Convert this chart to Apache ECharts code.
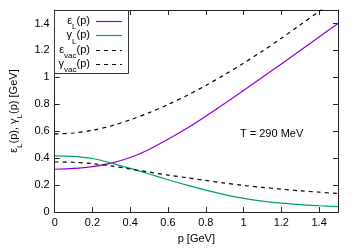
<!DOCTYPE html>
<html>
<head>
<meta charset="utf-8">
<script src="https://cdn.jsdelivr.net/npm/echarts@6/dist/echarts.min.js"></script>
<style>html,body{margin:0;padding:0;background:#fff}#c{width:356px;height:249px}</style>
</head>
<body>
<div id="c"></div>
<script>
const p = [0, 0.1, 0.2, 0.3, 0.4, 0.5, 0.6, 0.7, 0.8, 0.9, 1.0, 1.1, 1.2, 1.3, 1.4, 1.5];
const epsL = [0.318, 0.324, 0.338, 0.364, 0.405, 0.465, 0.54, 0.622, 0.712, 0.806, 0.903, 1.001, 1.10, 1.20, 1.30, 1.40];
const gamL = [0.418, 0.414, 0.398, 0.364, 0.325, 0.283, 0.24, 0.20, 0.163, 0.13, 0.102, 0.082, 0.066, 0.055, 0.047, 0.04];
const epsVac = [0.58, 0.587, 0.607, 0.64, 0.685, 0.738, 0.798, 0.865, 0.94, 1.02, 1.105, 1.195, 1.29, 1.39, 1.49, 1.59];
const gamVac = [0.372, 0.37, 0.36, 0.343, 0.32, 0.297, 0.275, 0.255, 0.235, 0.215, 0.198, 0.184, 0.17, 0.158, 0.148, 0.138];
const xTicks = [0, 0.2, 0.4, 0.6, 0.8, 1, 1.2, 1.4];
const yTicks = [0, 0.2, 0.4, 0.6, 0.8, 1, 1.2, 1.4];
const seriesNames = ['{m|ε}{s|L}{m|(p)}', '{m|γ}{s|L}{m|(p)}', '{m|ε}{s|vac}{m|(p)}', '{m|γ}{s|vac}{m|(p)}'];
const annotation = 'T = 290 MeV';

const font = 'Liberation Sans, Arial, sans-serif';
const colors = ['#9400d3', '#009e73', '#000', '#000'];
const dashes = ['solid', 'solid', [4, 4], [4, 4]];
const pair = (arr) => p.map((x, i) => [x, arr[i]]);
const fmt = v => (Math.abs(v - Math.round(v)) < 1e-9 ? String(Math.round(v)) : v.toFixed(1));
const rich = {
  m: {fontFamily: font, fontSize: 11, color: '#000', lineHeight: 12},
  s: {fontFamily: font, fontSize: 8, color: '#000', lineHeight: 12, verticalAlign: 'bottom', padding: [0, 0, -4, 0]}
};
const axisBase = {
  min: 0, max: 1.5, interval: 0.2,
  axisLine: {show: true, onZero: false, lineStyle: {color: '#222', width: 1}},
  axisTick: {show: true, inside: true, length: 5, lineStyle: {color: '#222'}},
  splitLine: {show: false}
};

// legend box drawn as graphic elements
const legendX = 54, legendY = 10, legendW = 74, legendH = 63, rowY0 = 21, rowStep = 14.3;
const legendEls = [{
  type: 'rect', shape: {x: legendX + 0.5, y: legendY + 0.5, width: legendW, height: legendH},
  style: {fill: '#fff', stroke: '#333', lineWidth: 1}, z: 100
}];
seriesNames.forEach((n, i) => {
  const y = rowY0 + i * rowStep;
  legendEls.push({
    type: 'text', x: 90, y: y, z: 101,
    style: {text: n, rich: rich, align: 'right', verticalAlign: 'middle'}
  });
  legendEls.push({
    type: 'line', shape: {x1: 96, y1: Math.round(y) + 0.5, x2: 122, y2: Math.round(y) + 0.5}, z: 101,
    style: {stroke: colors[i], lineWidth: 1.2, lineDash: dashes[i] === 'solid' ? null : dashes[i]}
  });
});

const chart = echarts.init(document.getElementById('c'), null, {renderer: 'canvas'});
chart.setOption({
  animation: false,
  backgroundColor: '#fff',
  grid: {left: 48, right: 18, top: 10, bottom: 32},
  xAxis: [
    Object.assign({}, axisBase, {
      type: 'value', position: 'bottom',
      name: 'p [GeV]', nameLocation: 'middle', nameGap: 19,
      nameTextStyle: {fontFamily: font, fontSize: 11, color: '#000'},
      axisLabel: {fontFamily: font, fontSize: 11, color: '#000', margin: 5,
        formatter: v => xTicks.some(t => Math.abs(t - v) < 1e-9) ? fmt(v) : ''}
    }),
    Object.assign({}, axisBase, {type: 'value', position: 'top', axisLabel: {show: false}})
  ],
  yAxis: [
    Object.assign({}, axisBase, {
      type: 'value', position: 'left',
      name: '{m|ε}{s|L}{m|(p), γ}{s|L}{m|(p) [GeV]}', nameLocation: 'middle', nameGap: 33,
      nameTextStyle: {rich: rich},
      axisLabel: {fontFamily: font, fontSize: 11, color: '#000', margin: 5,
        formatter: v => yTicks.some(t => Math.abs(t - v) < 1e-9) ? fmt(v) : ''}
    }),
    Object.assign({}, axisBase, {type: 'value', position: 'right', axisLabel: {show: false}})
  ],
  graphic: legendEls.concat([{
    type: 'text', left: 240, top: 128,
    style: {text: annotation, font: '11px ' + font, fill: '#000'}
  }]),
  series: seriesNames.map((n, i) => ({
    name: n, type: 'line', data: pair([epsL, gamL, epsVac, gamVac][i]), smooth: 0.3,
    showSymbol: false, symbol: 'none',
    lineStyle: {color: colors[i], width: 1.2, type: dashes[i]}, itemStyle: {color: colors[i]}
  }))
});
</script>
</body>
</html>
